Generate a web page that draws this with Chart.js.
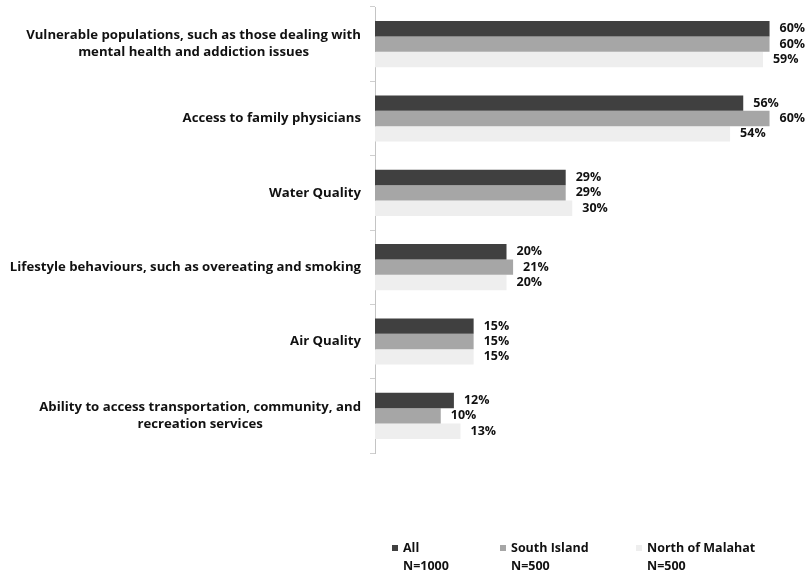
<!DOCTYPE html>
<html>
<head>
<meta charset="utf-8">
<script src="https://cdn.jsdelivr.net/npm/chart.js@4.4.1/dist/chart.umd.min.js"></script>
<style>
    html, body { margin: 0; padding: 0; background: #fff; }
</style>
</head>
<body>
<canvas id="chart" width="809" height="571"></canvas>
<script>
// Categorias (lineas de cada etiqueta)
const categories = [
    ["Vulnerable populations, such as those dealing with", "mental health and addiction issues"],
    ["Access to family physicians"],
    ["Water Quality"],
    ["Lifestyle behaviours, such as overeating and smoking"],
    ["Air Quality"],
    ["Ability to access transportation, community, and", "recreation services"]
];

// Series
const seriesNames = ["All", "South Island", "North of Malahat"];
const sampleSizes = ["N=1000", "N=500", "N=500"];
const allValues = [60, 56, 29, 20, 15, 12];
const southIslandValues = [60, 60, 29, 21, 15, 10];
const northMalahatValues = [59, 54, 30, 20, 15, 13];

const seriesColors = ['#404040', '#a6a6a6', '#eeeeee'];
const FONT = '"Open Sans", "Noto Sans", sans-serif';

// Etiquetas de categoria, valores y leyenda dibujados a mano
const customLabels = {
    id: 'customLabels',
    afterDraw(chart) {
        const ctx = chart.ctx;
        const yScale = chart.scales.y;
        ctx.save();
        ctx.fillStyle = '#111';

        // etiquetas del eje y (bloque alineado a la derecha, lineas centradas)
        ctx.font = 'bold 13.2px ' + FONT;
        ctx.textBaseline = 'middle';
        ctx.textAlign = 'center';
        const rightEdge = yScale.right - 14;
        const lineH = 17;
        categories.forEach((lines, i) => {
            const cy = yScale.getPixelForValue(i);
            const maxW = Math.max(...lines.map(l => ctx.measureText(l).width));
            const cx = rightEdge - maxW / 2;
            const top = cy - (lines.length - 1) * lineH / 2;
            lines.forEach((l, j) => ctx.fillText(l, cx, top + j * lineH));
        });

        // valores al final de cada barra
        ctx.font = 'bold 12.5px ' + FONT;
        ctx.textAlign = 'left';
        chart.data.datasets.forEach((ds, di) => {
            chart.getDatasetMeta(di).data.forEach((bar, i) => {
                ctx.fillText(ds.data[i] + '%', bar.x + 10, bar.y);
            });
        });

        // leyenda
        const legendX = [392, 500, 636];
        ctx.font = 'bold 12.5px ' + FONT;
        seriesNames.forEach((name, i) => {
            ctx.fillStyle = seriesColors[i];
            ctx.fillRect(legendX[i], 545, 6, 6);
            ctx.fillStyle = '#111';
            ctx.fillText(name, legendX[i] + 11, 548);
            ctx.fillText(sampleSizes[i], legendX[i] + 11, 566);
        });
        ctx.restore();
    }
};

const ctx = document.getElementById('chart').getContext('2d');
new Chart(ctx, {
    type: 'bar',
    data: {
        labels: categories.map(c => c.join(' ')),
        datasets: [
            { label: seriesNames[0], data: allValues, backgroundColor: seriesColors[0] },
            { label: seriesNames[1], data: southIslandValues, backgroundColor: seriesColors[1] },
            { label: seriesNames[2], data: northMalahatValues, backgroundColor: seriesColors[2] }
        ]
    },
    options: {
        indexAxis: 'y',
        responsive: false,
        devicePixelRatio: 1,
        animation: false,
        datasets: {
            bar: { barPercentage: 1, categoryPercentage: 0.62 }
        },
        layout: { padding: { top: 7, bottom: 118, left: 0, right: 0 } },
        plugins: {
            legend: { display: false },
            tooltip: { enabled: false }
        },
        scales: {
            x: { display: false, min: 0, max: 66 },
            y: {
                afterFit: (scale) => { scale.width = 375; },
                ticks: { display: false },
                grid: { drawOnChartArea: false, offset: true, tickLength: 5, color: '#cfcfcf' },
                border: { color: '#c4c4c4' }
            }
        }
    },
    plugins: [customLabels]
});
</script>
</body>
</html>
